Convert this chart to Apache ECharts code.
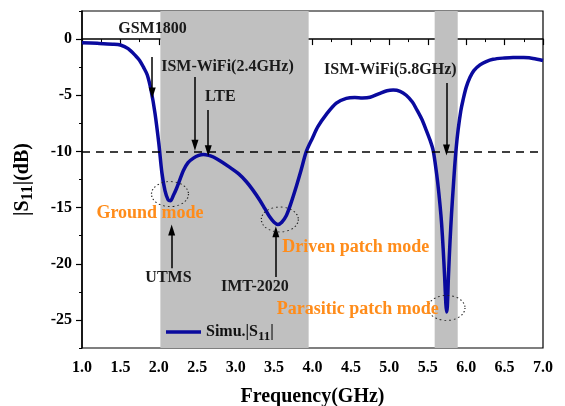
<!DOCTYPE html>
<html>
<head>
<meta charset="utf-8">
<script src="https://cdn.jsdelivr.net/npm/echarts@6/dist/echarts.min.js"></script>
<style>
  html, body { margin: 0; padding: 0; background: #fff; }
  #chart { width: 565px; height: 406px; }
</style>
</head>
<body>
<div id="chart"></div>
<script>
// simulated |S11| curve (GHz, dB)
const freq = [1.0, 1.2, 1.4, 1.5, 1.6, 1.7, 1.75, 1.8, 1.85, 1.9, 1.95, 2.0, 2.04, 2.08, 2.12, 2.15, 2.19, 2.23, 2.28, 2.32,
  2.38, 2.45, 2.52, 2.58, 2.65, 2.71, 2.8, 2.92, 3.04, 3.14, 3.22, 3.31, 3.38, 3.44, 3.5, 3.55, 3.6, 3.66, 3.72, 3.79,
  3.85, 3.92, 4.0, 4.07, 4.18, 4.31, 4.44, 4.55, 4.65, 4.75, 4.87, 4.97, 5.05, 5.14, 5.22, 5.3, 5.35, 5.42, 5.48, 5.53,
  5.57, 5.6, 5.63, 5.66, 5.68, 5.7, 5.72, 5.735, 5.745, 5.755, 5.77, 5.79, 5.81, 5.83, 5.85, 5.87, 5.895, 5.93, 5.96, 6.0,
  6.05, 6.1, 6.18, 6.26, 6.35, 6.5, 6.61, 6.75, 6.87, 7.0];
const s11 = [-0.33, -0.38, -0.45, -0.53, -0.85, -1.5, -1.9, -2.5, -3.2, -4.6, -6.6, -9.3, -11.9, -13.5, -14.3, -14.4, -13.9, -13.3, -12.4, -11.7,
  -11.0, -10.6, -10.35, -10.27, -10.35, -10.5, -10.85, -11.4, -12.0, -12.7, -13.4, -14.3, -15.1, -15.8, -16.3, -16.5, -16.3, -15.7, -14.6, -13.1,
  -11.7, -10.0, -8.8, -7.8, -6.7, -5.7, -5.28, -5.2, -5.24, -5.18, -4.85, -4.6, -4.54, -4.65, -5.0, -5.6, -6.2, -7.1, -8.1, -9.0,
  -9.9, -11.2, -12.8, -14.8, -16.4, -18.6, -21.2, -23.5, -24.3, -23.8, -21.0, -18.0, -15.5, -13.4, -11.4, -9.7, -8.1, -6.4, -5.4, -4.3,
  -3.4, -2.8, -2.3, -2.0, -1.8, -1.68, -1.63, -1.65, -1.72, -1.9];

// shaded bands (GHz)
const bands = [[2.02, 3.95], [5.59, 5.89]];
const threshold = -10;

// band annotations: text anchor and arrow start / tip (GHz, dB)
const bandNames = ['GSM1800', 'ISM-WiFi(2.4GHz)', 'LTE', 'ISM-WiFi(5.8GHz)', 'UTMS', 'IMT-2020'];
const bandTextAt = [[1.917, 0.89], [2.893, -2.47], [2.80, -5.14], [5.013, -2.76], [2.125, -21.26], [3.25, -22.06]];
const arrowFrom = [[1.914, -1.6], [2.47, -3.38], [2.643, -6.32], [5.744, -3.92], [2.167, -20.39], [3.523, -21.17]];
const arrowTo = [[1.914, -4.81], [2.47, -9.44], [2.643, -9.95], [5.744, -9.88], [2.167, -17.0], [3.523, -17.16]];

// resonance modes
const modeNames = ['Ground mode', 'Driven patch mode', 'Parasitic patch mode'];
const modeTextAt = [[1.885, -15.52], [4.564, -18.5], [4.59, -24.04]];
const modeCircleAt = [[2.145, -13.8], [3.575, -16.06], [5.744, -23.93]];

const FONT = 'Liberation Serif';
const chart = echarts.init(document.getElementById('chart'));

const textPoints = bandNames.map((name, i) => ({
  coord: bandTextAt[i],
  symbol: 'circle',
  symbolSize: 1,
  itemStyle: { color: 'rgba(0,0,0,0)' },
  label: { show: true, position: 'inside', formatter: name, color: '#1a1a1a', fontFamily: FONT, fontWeight: 'bold', fontSize: 16 }
})).concat(modeNames.map((name, i) => ({
  coord: modeTextAt[i],
  symbol: 'circle',
  symbolSize: 1,
  itemStyle: { color: 'rgba(0,0,0,0)' },
  label: { show: true, position: 'inside', formatter: name, color: '#ff8c1a', fontFamily: FONT, fontWeight: 'bold', fontSize: 18 }
}))).concat(modeCircleAt.map((c) => ({
  coord: c,
  symbol: 'circle',
  symbolSize: [37, 25],
  itemStyle: { color: 'rgba(0,0,0,0)', borderColor: '#222', borderWidth: 1, borderType: [1.5, 2.5] },
  label: { show: false }
})));

const arrows = arrowFrom.map((p, i) => [
  { coord: p, symbol: 'none' },
  { coord: arrowTo[i], symbol: 'triangle', symbolSize: [7, 11] }
]);

const option = {
  animation: false,
  grid: {
    left: 82, right: 22, top: 11, bottom: 58, outerBoundsMode: 'none',
    show: true, borderColor: '#000', borderWidth: 1.2, backgroundColor: 'transparent'
  },
  legend: {
    left: 161, top: 319,
    icon: 'rect', itemWidth: 35, itemHeight: 3.5, itemGap: 5,
    formatter: () => 'Simu.|S{sub|11}|',
    textStyle: {
      color: '#111', fontFamily: FONT, fontWeight: 'bold', fontSize: 16,
      rich: { sub: { fontFamily: FONT, fontWeight: 'bold', fontSize: 13, verticalAlign: 'bottom', padding: [9, 0, 0, 0] } }
    }
  },
  xAxis: {
    type: 'value', min: 1, max: 7, interval: 0.5,
    name: 'Frequency(GHz)', nameLocation: 'middle', nameGap: 39,
    nameTextStyle: { color: '#000', fontFamily: FONT, fontWeight: 'bold', fontSize: 20 },
    axisLine: { lineStyle: { color: '#000', width: 1.5 } },
    axisTick: { length: 6, lineStyle: { color: '#000', width: 1.2 } },
    minorTick: { show: true, splitNumber: 2, length: 3, lineStyle: { color: '#000', width: 1 } },
    axisLabel: { color: '#000', fontFamily: FONT, fontWeight: 'bold', fontSize: 16, margin: 12, formatter: (v) => v.toFixed(1) },
    splitLine: { show: false }
  },
  yAxis: [{
    type: 'value', min: -27.5, max: 2.5, splitNumber: 6,
    name: '|S{sub|11}|(dB)', nameLocation: 'middle', nameGap: 46, nameRotate: 90,
    nameTextStyle: {
      color: '#000', fontFamily: FONT, fontWeight: 'bold', fontSize: 20,
      rich: { sub: { fontFamily: FONT, fontWeight: 'bold', fontSize: 16, verticalAlign: 'bottom', padding: [10, 0, 0, 0] } }
    },
    axisLine: { show: true, lineStyle: { color: '#000', width: 1.5 } },
    axisTick: { show: true, length: 6, lineStyle: { color: '#000', width: 1.2 } },
    axisLabel: { color: '#000', fontFamily: FONT, fontWeight: 'bold', fontSize: 16, margin: 10, showMinLabel: false, showMaxLabel: false },
    splitLine: { show: false }
  }, {
    // minor ticks every 2.5 dB
    type: 'value', min: -27.5, max: 2.5, interval: 2.5, position: 'left',
    axisLine: { show: false },
    axisTick: { show: true, length: 3, lineStyle: { color: '#000', width: 1 } },
    axisLabel: { show: false },
    splitLine: { show: false }
  }],
  series: [{
    name: 'Simu.|S11|',
    type: 'line',
    data: freq.map((f, i) => [f, s11[i]]),
    showSymbol: false,
    smooth: 0.3,
    lineStyle: { color: '#0a0a9e', width: 3.5 },
    itemStyle: { color: '#0a0a9e' },
    markArea: {
      silent: true,
      itemStyle: { color: '#c0c0c0' },
      data: bands.map((b) => [{ xAxis: b[0] }, { xAxis: b[1] }])
    },
    markLine: {
      silent: true,
      animation: false,
      label: { show: false },
      lineStyle: { color: '#000', width: 1.5, type: [8, 6] },
      data: [[{ coord: [1, threshold], symbol: 'none' }, { coord: [7, threshold], symbol: 'none' }]]
    },
    markPoint: { silent: true, data: textPoints }
  }, {
    // arrows for the band annotations
    type: 'line',
    data: [],
    markLine: {
      silent: true,
      label: { show: false },
      lineStyle: { color: '#000', width: 1.5, type: 'solid' },
      itemStyle: { color: '#000' },
      data: arrows
    }
  }]
};

chart.setOption(option);
</script>
</body>
</html>
